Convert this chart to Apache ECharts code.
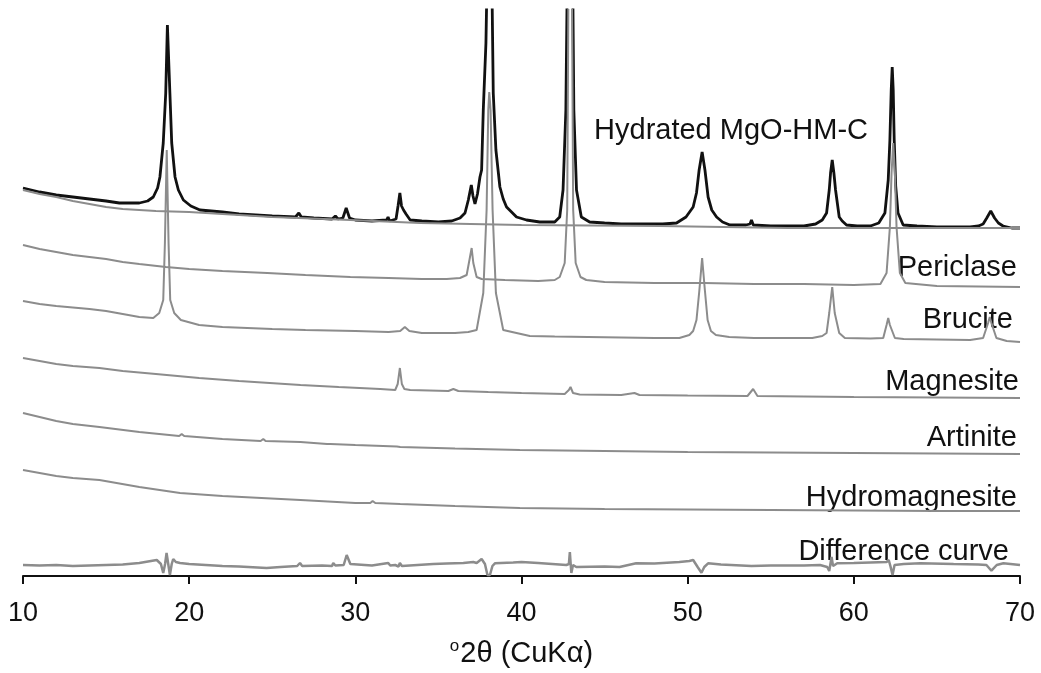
<!DOCTYPE html>
<html>
<head>
<meta charset="utf-8">
<script src="https://cdn.jsdelivr.net/npm/echarts@6/dist/echarts.min.js"></script>
<style>
  html, body { margin: 0; padding: 0; background: #fff; }
  #chart { width: 1041px; height: 673px; }
</style>
</head>
<body>
<div id="chart"></div>
<script>
// values: [2theta, intensity offset (a.u.)]
var hydratedData = [
  [10, 388], [10.5, 386], [11, 384], [12, 381], [13, 379], [14, 377], [15, 375], [15.8, 373], [17, 373], [17.5, 375],
  [17.84, 379], [18.1, 388], [18.24, 399], [18.44, 433], [18.59, 483], [18.69, 551], [18.84, 483], [18.95, 433], [19.15, 399], [19.35, 386],
  [19.65, 376], [20.1, 370], [20.65, 366], [22, 364], [23, 362], [24, 361], [25, 360], [26.4, 359], [26.6, 363], [26.75, 359],
  [27.5, 358], [28.6, 357], [28.8, 360], [28.95, 357], [29.25, 358], [29.45, 368], [29.65, 358], [30, 356], [31, 355], [31.88, 356],
  [31.97, 359], [32.06, 355], [32.45, 357], [32.57, 370], [32.68, 383], [32.78, 370], [32.9, 366], [33.05, 362], [33.3, 356], [34, 355],
  [35, 354], [35.8, 355], [36.3, 358], [36.6, 363], [36.8, 376], [36.98, 391], [37.08, 380], [37.2, 372], [37.35, 382], [37.5, 399],
  [37.6, 406], [37.7, 466], [37.86, 533], [37.95, 620], [38.2, 620], [38.3, 483], [38.46, 426], [38.7, 389], [38.9, 377], [39.1, 369],
  [39.7, 359], [40.3, 356], [41.1, 354], [42, 354], [42.3, 359], [42.5, 386], [42.67, 466], [42.77, 620], [43.07, 620], [43.15, 466],
  [43.31, 386], [43.6, 359], [44.1, 354], [45, 353], [46, 352], [46.7, 352], [46.8, 354], [46.9, 352], [48.5, 352], [49.33, 353],
  [49.9, 359], [50.33, 369], [50.53, 383], [50.69, 406], [50.87, 424], [51.04, 406], [51.23, 379], [51.45, 366], [51.74, 359], [52.1, 354],
  [52.54, 351], [53.5, 351], [53.75, 352], [53.84, 356], [53.95, 351], [55, 350], [56, 350], [57, 350], [57.7, 352], [58.1, 356],
  [58.36, 363], [58.52, 386], [58.6, 403], [58.7, 416], [58.8, 403], [58.9, 386], [59.12, 359], [59.3, 355], [59.56, 351], [60.2, 350],
  [61, 350], [61.5, 353], [61.87, 363], [62.07, 396], [62.17, 436], [62.25, 486], [62.31, 509], [62.37, 486], [62.43, 436], [62.52, 390],
  [62.66, 363], [62.97, 351], [63.8, 350], [65, 349], [66, 349], [67, 349], [67.5, 350], [67.78, 352], [68.0, 358], [68.24, 365],
  [68.47, 358], [68.7, 353], [68.98, 350], [69.5, 348], [70, 348]
];
var backgroundData = [
  [10, 386], [11, 382], [12, 379], [13, 375], [14, 372], [15, 369], [16, 367], [18, 365], [20, 364], [22, 362],
  [25, 359], [29.7, 356], [33.9, 353], [40, 351], [48.3, 350], [56, 348], [63, 348], [70, 348]
];
var periclaseData = [
  [10, 331], [11, 327], [12, 324], [13, 321], [14, 319], [15, 317], [16, 314], [17, 312], [18.6, 309], [20, 307],
  [22, 305], [24.7, 303], [27, 301], [29.7, 299], [32, 298], [34, 297], [35.5, 297], [36.3, 298], [36.7, 301], [36.9, 319],
  [37.0, 328], [37.1, 313], [37.3, 299], [37.6, 297], [39, 296], [41, 295], [42, 296], [42.3, 299], [42.6, 313], [42.75, 366],
  [42.85, 660], [43.01, 660], [43.11, 366], [43.26, 313], [43.55, 299], [43.9, 296], [45, 294], [48, 293], [51, 293], [54, 292],
  [57, 292], [60, 291], [61.6, 292], [61.97, 303], [62.17, 349], [62.27, 403], [62.37, 433], [62.47, 403], [62.57, 349], [62.77, 303],
  [63.1, 293], [65, 290], [70, 289]
];
var bruciteData = [
  [10, 275], [11, 272], [12, 270], [13, 268.5], [14, 267], [15, 265], [16, 262], [17, 259], [17.84, 258], [18.2, 263],
  [18.44, 276], [18.54, 333], [18.65, 426], [18.76, 333], [18.86, 276], [19.1, 263], [19.5, 256], [20.6, 251], [22, 249], [25, 247],
  [27, 246], [30, 245], [32, 244], [32.7, 245], [32.98, 249], [33.25, 245], [34, 243], [35, 243], [36, 243], [36.8, 244],
  [37.3, 246], [37.7, 283], [37.9, 366], [38.0, 466], [38.06, 484], [38.14, 466], [38.26, 366], [38.46, 283], [38.9, 246], [40.5, 240],
  [42, 239.5], [44, 239], [46, 238.5], [48, 238], [49.5, 238], [50.1, 241], [50.33, 245], [50.53, 256], [50.7, 285], [50.87, 318],
  [51.04, 285], [51.2, 256], [51.4, 245], [51.7, 241], [52.5, 239], [54, 238], [56, 238], [57.5, 238], [58.1, 240], [58.36, 243],
  [58.52, 263], [58.7, 289], [58.85, 263], [59.12, 243], [59.46, 238], [61, 237.5], [61.77, 238], [61.97, 251], [62.07, 258], [62.17, 251],
  [62.47, 238], [63, 237], [65, 236.5], [67, 236], [67.78, 238], [68.08, 253], [68.18, 259], [68.28, 253], [68.58, 238], [69.2, 235],
  [70, 234]
];
var magnesiteData = [
  [10, 218], [11, 215], [12, 212], [13, 210], [14.6, 208], [16, 205], [18, 202], [20.6, 198], [23, 195], [26.7, 191],
  [29, 189], [31.5, 187], [32.4, 186], [32.55, 192], [32.68, 208], [32.8, 192], [32.95, 187], [33.3, 186], [35.6, 185], [35.9, 187],
  [36.2, 185], [38, 184], [40, 183], [42.6, 182], [42.85, 186], [42.95, 189], [43.1, 183], [43.5, 181.5], [46, 181], [46.8, 183],
  [47.1, 181], [50, 180.5], [53.6, 180], [53.94, 187], [54.2, 180], [57, 179.5], [60, 179], [65, 178.5], [70, 178]
];
var artiniteData = [
  [10, 163], [11, 159], [12, 155], [13, 152], [14.6, 149], [17, 144], [19.4, 140], [19.55, 142], [19.7, 140], [22, 137],
  [24.3, 135], [24.46, 137], [24.6, 135], [26.7, 134], [28.3, 132], [28.4, 133], [28.5, 132], [30, 131], [32.5, 129.5], [32.6, 130.5],
  [32.7, 129], [36, 127.5], [39.9, 126], [45, 125], [50, 124], [55, 123.5], [60, 123], [65, 122.5], [70, 122]
];
var hydromagnesiteData = [
  [10, 106], [11, 103], [12, 100], [13, 98], [14.6, 96], [17, 89], [19.45, 83], [22, 80], [26.7, 76], [30, 73],
  [30.9, 73], [31.04, 75], [31.2, 73], [32.7, 72], [36, 70], [39.9, 68], [45, 67], [50, 66.5], [55, 66], [60, 65.5],
  [65, 65], [70, 65]
];
var differenceData = [
  [10, 11], [11, 10.5], [12, 11], [13, 10], [14, 10.5], [15, 11], [16, 11.5], [17, 13], [17.7, 15], [18.05, 16],
  [18.3, 12], [18.44, 3], [18.55, 12], [18.64, 23], [18.74, 12], [18.84, 1], [18.95, 12], [19.04, 17], [19.2, 14], [19.45, 13],
  [20, 12], [21, 11], [22, 10], [23, 9.5], [24.66, 8], [25.5, 9], [26.5, 10], [26.67, 13], [26.8, 10], [28, 10.5],
  [28.6, 10], [28.67, 13], [28.8, 10.5], [29.3, 11], [29.48, 21], [29.7, 12], [29.78, 11], [31, 10.5], [31.98, 13], [32.1, 10.5],
  [32.4, 11], [32.6, 9.5], [32.68, 13], [32.8, 10], [34.69, 12], [35.5, 12.5], [36.5, 13], [37.1, 14], [37.3, 13], [37.6, 17],
  [37.8, 12], [37.95, 1], [38.1, 1], [38.25, 10], [38.4, 12.7], [39.5, 13.5], [40, 14], [41, 13], [42.7, 11], [42.85, 12],
  [42.91, 24], [42.96, 12], [43.0, 3], [43.1, 11], [43.3, 9], [45, 9.5], [45.9, 9], [46.9, 12.7], [48, 12.5], [49.5, 14],
  [50.1, 15], [50.33, 16], [50.6, 9], [50.83, 3.3], [51.0, 9], [51.23, 12.7], [52, 11.5], [53.84, 10], [55, 10.5], [57, 10.5],
  [57.96, 11], [58.4, 9], [58.52, 5], [58.6, 4.3], [58.66, 19], [58.75, 10], [59, 12.7], [60, 13], [61, 13.5], [61.97, 14],
  [62.1, 16], [62.2, 10], [62.33, 1], [62.45, 11], [63, 12], [64, 12.7], [66, 12], [67.5, 11.5], [67.98, 11], [68.28, 5.3],
  [68.6, 11], [69, 12.7], [70, 11]
];
var traceNames = ['Hydrated MgO-HM-C', 'Periclase', 'Brucite', 'Magnesite', 'Artinite', 'Hydromagnesite', 'Difference curve'];

var GRAY = '#8c8c8c';

function trace(name, data, color, width, z) {
  return {
    name: name,
    type: 'line',
    data: data,
    showSymbol: false,
    smooth: false,
    clip: true,
    z: z,
    lineStyle: { color: color, width: width },
    animation: false
  };
}

// trace name, right edge and cap centre in px
function label(text, right, y) {
  return {
    type: 'text',
    right: 1041 - right,
    top: y - 13,
    style: {
      text: text,
      font: '29px "Liberation Sans", Arial, sans-serif',
      fill: '#111'
    }
  };
}

var option = {
  backgroundColor: '#fff',
  animation: false,
  grid: { left: 23, right: 21, top: 10, bottom: 97 },
  xAxis: {
    type: 'value',
    min: 10,
    max: 70,
    interval: 10,
    name: '{sup|o}2θ (CuKα)',
    nameLocation: 'middle',
    nameGap: 62,
    nameTextStyle: {
      fontFamily: 'Liberation Sans',
      fontSize: 29,
      color: '#111',
      rich: {
        sup: { fontSize: 17, verticalAlign: 'top', padding: [0, 1, 14, 0], color: '#111' }
      }
    },
    axisLine: { onZero: false, lineStyle: { color: '#111', width: 2 } },
    axisTick: { length: 8, lineStyle: { color: '#111', width: 2 } },
    axisLabel: { fontFamily: 'Liberation Sans', fontSize: 27, color: '#111', margin: 24 },
    splitLine: { show: false }
  },
  yAxis: {
    type: 'value',
    min: 0,
    max: 566,
    show: false
  },
  series: [
    trace(traceNames[0], hydratedData, '#111', 2.8, 2),
    trace('background', backgroundData, GRAY, 2, 3),
    trace(traceNames[1], periclaseData, GRAY, 2, 3),
    trace(traceNames[2], bruciteData, GRAY, 2, 3),
    trace(traceNames[3], magnesiteData, GRAY, 2, 3),
    trace(traceNames[4], artiniteData, GRAY, 2, 3),
    trace(traceNames[5], hydromagnesiteData, GRAY, 2, 3),
    trace(traceNames[6], differenceData, GRAY, 2.5, 3)
  ],
  graphic: [
    label(traceNames[0], 868, 129),
    label(traceNames[1], 1017, 266),
    label(traceNames[2], 1013, 318),
    label(traceNames[3], 1019, 380),
    label(traceNames[4], 1017, 436),
    label(traceNames[5], 1017, 496),
    label(traceNames[6], 1009, 550)
  ]
};

var myChart = echarts.init(document.getElementById('chart'));
myChart.setOption(option);
</script>
</body>
</html>
